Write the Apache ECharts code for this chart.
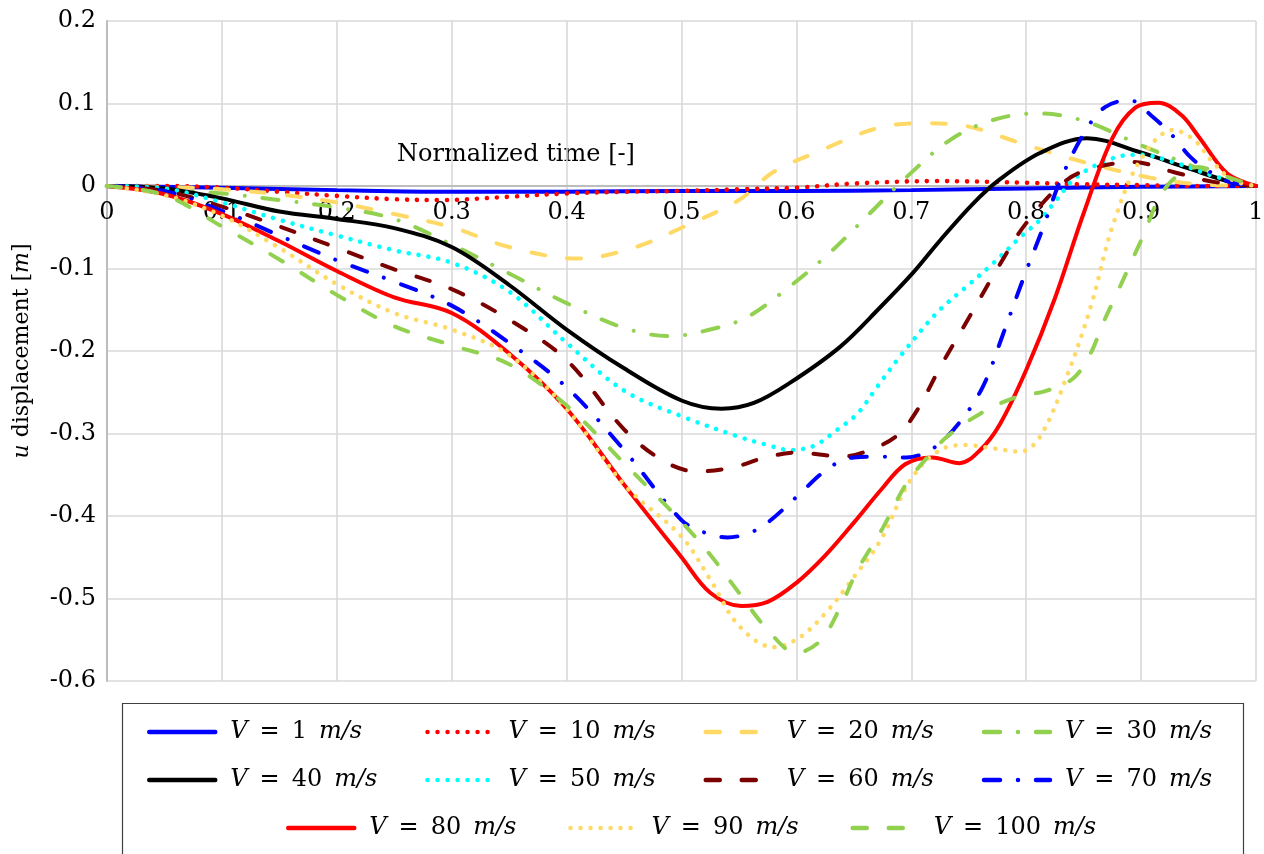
<!DOCTYPE html>
<html>
<head>
    <meta charset="UTF-8">
    <title>u displacement vs normalized time</title>
    <script src="https://cdn.jsdelivr.net/npm/echarts@6/dist/echarts.min.js"></script>
    <style>
        html, body { margin: 0; padding: 0; background: #fff; }
        #chart { width: 1264px; height: 854px; }
    </style>
</head>
<body>
<div id="chart"></div>
<script>
    // speeds shown in the legend
    var speeds = [1, 10, 20, 30, 40, 50, 60, 70, 80, 90, 100];

    // [normalized time, u displacement]
    var v1 = [[0,0],[0.1,-0.002],[0.2,-0.005],[0.3,-0.007],[0.4,-0.007],[0.5,-0.006],[0.6,-0.006],[0.7,-0.005],[0.8,-0.003],[0.9,-0.001],[1,0]];
    var v10 = [[0,0],[0.05,0],[0.1,-0.002],[0.15,-0.007],[0.2,-0.012],[0.25,-0.016],[0.29,-0.017],[0.35,-0.013],[0.4,-0.009],[0.45,-0.007],[0.5,-0.006],[0.55,-0.004],[0.6,-0.002],[0.65,0.003],[0.72,0.006],[0.8,0.004],[0.85,0.002],[0.9,0.001],[0.95,0],[1,0]];
    var v20 = [[0,0],[0.05,-0.001],[0.1,-0.004],[0.15,-0.01],[0.2,-0.02],[0.25,-0.034],[0.3,-0.05],[0.35,-0.074],[0.41,-0.088],[0.458,-0.075],[0.501,-0.05],[0.55,-0.017],[0.58,0.017],[0.618,0.041],[0.67,0.07],[0.71,0.076],[0.75,0.072],[0.795,0.052],[0.85,0.029],[0.908,0.01],[0.95,0.002],[1,0]];
    var v30 = [[0,0],[0.05,-0.005],[0.1,-0.009],[0.15,-0.017],[0.2,-0.026],[0.25,-0.04],[0.3,-0.071],[0.35,-0.106],[0.4,-0.142],[0.45,-0.172],[0.49,-0.182],[0.525,-0.174],[0.557,-0.159],[0.594,-0.122],[0.629,-0.081],[0.664,-0.033],[0.696,0.011],[0.734,0.056],[0.771,0.08],[0.81,0.088],[0.85,0.079],[0.899,0.05],[0.948,0.022],[0.975,0.007],[1,0]];
    var v40 = [[0,0],[0.05,-0.003],[0.1,-0.015],[0.15,-0.031],[0.2,-0.04],[0.25,-0.051],[0.3,-0.074],[0.35,-0.12],[0.4,-0.174],[0.45,-0.221],[0.5,-0.26],[0.535,-0.27],[0.563,-0.263],[0.594,-0.239],[0.638,-0.195],[0.673,-0.147],[0.701,-0.106],[0.725,-0.066],[0.754,-0.021],[0.777,0.008],[0.812,0.04],[0.853,0.058],[0.899,0.041],[0.94,0.022],[0.98,0.004],[1,0]];
    var v50 = [[0,0],[0.05,-0.003],[0.1,-0.02],[0.15,-0.041],[0.2,-0.06],[0.25,-0.078],[0.3,-0.093],[0.35,-0.128],[0.4,-0.19],[0.45,-0.248],[0.5,-0.279],[0.55,-0.304],[0.575,-0.314],[0.594,-0.32],[0.615,-0.315],[0.635,-0.296],[0.653,-0.276],[0.67,-0.244],[0.69,-0.207],[0.722,-0.154],[0.748,-0.122],[0.771,-0.094],[0.795,-0.062],[0.812,-0.041],[0.824,-0.021],[0.844,0.011],[0.876,0.034],[0.899,0.038],[0.928,0.029],[0.966,0.011],[1,0]];
    var v60 = [[0,0],[0.05,-0.006],[0.1,-0.025],[0.15,-0.049],[0.2,-0.075],[0.25,-0.101],[0.3,-0.125],[0.35,-0.162],[0.4,-0.211],[0.45,-0.295],[0.484,-0.333],[0.513,-0.346],[0.545,-0.341],[0.571,-0.33],[0.6,-0.323],[0.64,-0.328],[0.664,-0.32],[0.688,-0.302],[0.705,-0.272],[0.725,-0.22],[0.75,-0.16],[0.775,-0.1],[0.8,-0.045],[0.835,0.007],[0.862,0.023],[0.893,0.029],[0.928,0.017],[0.963,0.005],[1,0]];
    var v70 = [[0,0],[0.05,-0.006],[0.1,-0.03],[0.15,-0.06],[0.2,-0.09],[0.25,-0.116],[0.3,-0.145],[0.35,-0.19],[0.4,-0.244],[0.45,-0.32],[0.5,-0.405],[0.52,-0.42],[0.54,-0.426],[0.56,-0.42],[0.575,-0.408],[0.6,-0.377],[0.628,-0.342],[0.65,-0.329],[0.673,-0.328],[0.696,-0.329],[0.719,-0.318],[0.74,-0.29],[0.762,-0.244],[0.78,-0.179],[0.797,-0.114],[0.814,-0.053],[0.831,0.011],[0.853,0.07],[0.869,0.096],[0.89,0.104],[0.91,0.084],[0.928,0.06],[0.943,0.035],[0.96,0.017],[0.977,0.005],[1,0]];
    var v80 = [[0,0],[0.05,-0.01],[0.1,-0.034],[0.15,-0.067],[0.2,-0.103],[0.25,-0.135],[0.3,-0.154],[0.35,-0.203],[0.4,-0.27],[0.45,-0.362],[0.5,-0.45],[0.525,-0.493],[0.552,-0.509],[0.575,-0.504],[0.6,-0.481],[0.625,-0.448],[0.65,-0.408],[0.675,-0.366],[0.695,-0.337],[0.718,-0.329],[0.742,-0.336],[0.76,-0.32],[0.777,-0.289],[0.8,-0.223],[0.825,-0.136],[0.85,-0.033],[0.875,0.058],[0.895,0.095],[0.915,0.101],[0.935,0.086],[0.95,0.06],[0.975,0.015],[1,0]];
    var v90 = [[0,0],[0.05,-0.011],[0.1,-0.036],[0.15,-0.075],[0.2,-0.119],[0.25,-0.154],[0.3,-0.174],[0.35,-0.205],[0.4,-0.27],[0.45,-0.362],[0.5,-0.425],[0.525,-0.477],[0.55,-0.533],[0.58,-0.559],[0.603,-0.547],[0.627,-0.515],[0.65,-0.474],[0.673,-0.43],[0.7,-0.355],[0.725,-0.32],[0.748,-0.314],[0.771,-0.318],[0.795,-0.322],[0.812,-0.304],[0.835,-0.232],[0.856,-0.147],[0.876,-0.045],[0.9,0.033],[0.928,0.068],[0.946,0.056],[0.963,0.028],[0.98,0.007],[1,0]];
    var v100 = [[0,0],[0.05,-0.011],[0.1,-0.049],[0.15,-0.089],[0.2,-0.132],[0.25,-0.17],[0.3,-0.193],[0.35,-0.216],[0.4,-0.266],[0.45,-0.336],[0.5,-0.407],[0.525,-0.447],[0.55,-0.493],[0.575,-0.538],[0.6,-0.566],[0.621,-0.551],[0.638,-0.511],[0.653,-0.466],[0.675,-0.415],[0.696,-0.36],[0.714,-0.329],[0.731,-0.304],[0.76,-0.276],[0.789,-0.257],[0.818,-0.248],[0.841,-0.233],[0.856,-0.203],[0.867,-0.166],[0.879,-0.13],[0.9,-0.066],[0.922,-0.001],[0.95,0.023],[0.975,0.011],[1,0]];

    var allData = [v1, v10, v20, v30, v40, v50, v60, v70, v80, v90, v100];

    // axis ranges / ticks
    var xMin = 0, xMax = 1, xStep = 0.1;
    var yMin = -0.6, yMax = 0.2, yStep = 0.1;

    var FONT = 'DejaVu Serif';
    var DOT = [0.01, 10];
    var DASH = [14, 22];
    var DASHDOT = [16, 18, 0.01, 18];

    var looks = [
        {color: '#0000ff', type: 'solid', w: 4},
        {color: '#ff0000', type: DOT, w: 4.6},
        {color: '#ffd966', type: DASH, w: 4},
        {color: '#92d050', type: DASHDOT, w: 4},
        {color: '#000000', type: 'solid', w: 4},
        {color: '#00ffff', type: DOT, w: 4.6},
        {color: '#7b0000', type: DASH, w: 4},
        {color: '#0000ff', type: DASHDOT, w: 4},
        {color: '#ff0000', type: 'solid', w: 4},
        {color: '#ffd966', type: DOT, w: 4.6},
        {color: '#92d050', type: DASH, w: 4}
    ];

    var names = speeds.map(function (s) { return 'V = ' + s + ' m/s'; });

    var series = names.map(function (n, i) {
        return {
            name: n,
            type: 'line',
            data: allData[i],
            smooth: 0.35,
            symbol: 'none',
            showSymbol: false,
            color: looks[i].color,
            lineStyle: {
                color: looks[i].color,
                width: looks[i].w,
                type: looks[i].type,
                cap: 'round'
            }
        };
    });

    function legendRow(items, left, top, gap) {
        return {
            data: items,
            left: left,
            top: top,
            orient: 'horizontal',
            padding: 0,
            itemGap: gap,
            itemWidth: 66,
            itemHeight: 14,
            itemStyle: {color: 'rgba(0,0,0,0)', borderWidth: 0, opacity: 0},
            lineStyle: {width: 4.5},
            formatter: function (name) {
                return name.replace(/^V = /, '{i|V}\u2002=\u2002').replace(' m/s', '\u2002{i|m/s}');
            },
            textStyle: {
                fontFamily: FONT,
                fontSize: 24,
                color: '#000',
                width: 170,
                lineHeight: 28,
                padding: [0, 0, 0, 10],
                rich: {
                    i: {fontFamily: FONT, fontSize: 24, fontStyle: 'italic', color: '#000', lineHeight: 28}
                }
            }
        };
    }

    var chart = echarts.init(document.getElementById('chart'));
    chart.setOption({
        animation: false,
        backgroundColor: '#fff',
        grid: {left: 107, right: 8, top: 21, bottom: 173, containLabel: false, outerBoundsMode: 'none'},
        xAxis: {
            type: 'value',
            min: xMin, max: xMax, interval: xStep,
            position: 'bottom',
            offset: -495,
            axisLine: {show: true, onZero: false, lineStyle: {color: '#bdbdbd', width: 2}},
            axisTick: {show: false},
            axisLabel: {fontFamily: FONT, fontSize: 24, color: '#000', margin: 15},
            splitLine: {show: true, lineStyle: {color: '#d9d9d9', width: 1.6}}
        },
        yAxis: {
            type: 'value',
            min: yMin, max: yMax, interval: yStep,
            name: '{i|u} displacement [{i|m}]',
            nameLocation: 'middle',
            nameGap: 74,
            nameRotate: 90,
            nameTextStyle: {
                fontFamily: FONT, fontSize: 22, color: '#000',
                rich: {i: {fontFamily: FONT, fontSize: 22, fontStyle: 'italic', color: '#000'}}
            },
            axisLine: {show: true, lineStyle: {color: '#bdbdbd', width: 2}},
            axisTick: {show: false},
            axisLabel: {fontFamily: FONT, fontSize: 24, color: '#000', margin: 11},
            splitLine: {show: true, lineStyle: {color: '#d9d9d9', width: 1.6}}
        },
        legend: [
            legendRow(names.slice(0, 4), 147, 718, 25),
            legendRow(names.slice(4, 8), 147, 766, 25),
            legendRow(names.slice(8), 286, 814, 29)
        ],
        graphic: [
            {
                type: 'rect',
                shape: {x: 122.5, y: 703.5, width: 1121, height: 170},
                style: {fill: 'none', stroke: '#404040', lineWidth: 1.2},
                silent: true
            },
            {
                type: 'text',
                x: 516, y: 155,
                style: {
                    text: 'Normalized time [-]',
                    font: '24px "DejaVu Serif"',
                    fill: '#000',
                    align: 'center',
                    verticalAlign: 'middle'
                },
                silent: true
            }
        ],
        series: series
    });
</script>
</body>
</html>
